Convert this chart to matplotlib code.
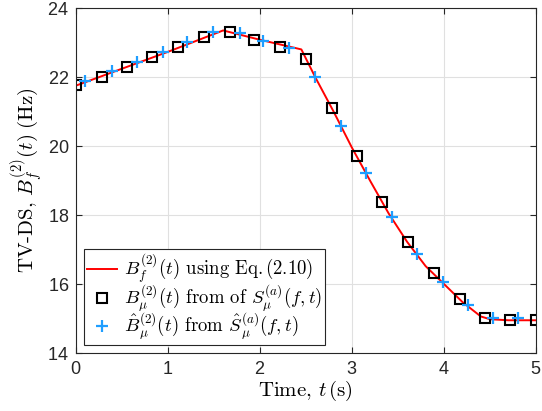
import matplotlib
matplotlib.use("Agg")
import matplotlib.pyplot as plt
import numpy as np

plt.rcParams['mathtext.fontset'] = 'cm'
plt.rcParams['axes.formatter.use_mathtext'] = True

# Reference curve B_f^(2)(t) (Eq. 2.10)
t_line = [0.0, 0.5, 1.0, 1.6, 2.0, 2.45, 2.6, 2.8, 3.0, 3.2, 3.4, 3.6, 3.8, 4.0, 4.2, 4.4, 4.5, 4.7, 5.0]
b_line = [21.75, 22.24, 22.73, 23.35, 23.08, 22.8, 22.0, 21.0, 19.95, 18.98, 18.04, 17.22, 16.52, 16.0, 15.48, 15.06, 14.98, 14.95, 14.95]

# Squares: B_mu^(2)(t) from S_mu^(a)(f,t)
t_sq = [0.0, 0.28, 0.56, 0.83, 1.11, 1.39, 1.67, 1.94, 2.22, 2.5, 2.78, 3.06, 3.33, 3.61, 3.89, 4.17, 4.44, 4.72, 5.0]
b_sq = [21.77, 21.99, 22.29, 22.58, 22.87, 23.16, 23.30, 23.07, 22.87, 22.52, 21.10, 19.71, 18.38, 17.22, 16.32, 15.57, 15.03, 14.96, 14.95]

# Crosses: hat B_mu^(2)(t) from hat S_mu^(a)(f,t)
t_cr = [0.10, 0.39, 0.66, 0.95, 1.21, 1.49, 1.78, 2.03, 2.32, 2.60, 2.88, 3.15, 3.43, 3.71, 3.99, 4.26, 4.53, 4.80]
b_cr = [21.88, 22.17, 22.43, 22.72, 23.01, 23.30, 23.28, 23.04, 22.84, 22.00, 20.58, 19.22, 17.94, 16.87, 16.06, 15.39, 15.01, 15.01]

xticks = [0, 1, 2, 3, 4, 5]
yticks = [14, 16, 18, 20, 22, 24]

fig = plt.figure(figsize=(5.42, 4.11), dpi=100)
ax = fig.add_axes([0.140, 0.141, 0.849, 0.8395])

ax.plot(t_line, b_line, color=(1, 0, 0), lw=1.4,
        label=r'$B_f^{(2)}(t)$ using Eq.$\,(2.10)$')
ax.plot(t_sq, b_sq, ls='none', marker='s', ms=6.8, mfc='none', mec='black', mew=1.5,
        label=r'$B_\mu^{(2)}(t)$ from of $S_\mu^{(a)}(f,t)$')
ax.plot(t_cr, b_cr, ls='none', marker='+', ms=9, mec=(0.12, 0.62, 1.0), mew=1.6,
        label=r'$\hat{B}_\mu^{(2)}(t)$ from $\hat{S}_\mu^{(a)}(f,t)$')

ax.set_xlim(0, 5)
ax.set_ylim(14, 24)
ax.set_xticks(xticks)
ax.set_yticks(yticks)
ax.grid(True, color=(0.88, 0.88, 0.88), lw=0.8)
ax.set_axisbelow(True)
for s in ax.spines.values():
    s.set_color((0.15, 0.15, 0.15))
    s.set_linewidth(0.8)
ax.tick_params(direction='in', top=True, right=True, length=4, width=0.8,
               colors=(0.15, 0.15, 0.15), labelsize=13)
ax.tick_params(axis='x', pad=6)
ax.tick_params(axis='y', pad=5)
for lab in ax.get_xticklabels() + ax.get_yticklabels():
    lab.set_family('Liberation Sans')

ax.set_xlabel(r'Time, $t\,$(s)', family='cmr10', fontsize=15, labelpad=0)
ax.set_ylabel(r'TV-DS, $B_f^{(2)}(t)\;$(Hz)', family='cmr10', fontsize=15, labelpad=2)

leg = ax.legend(loc='lower left', bbox_to_anchor=(0.017, 0.023), borderaxespad=0,
                prop={'family': 'cmr10', 'size': 13.5}, fancybox=False,
                framealpha=1, edgecolor=(0.15, 0.15, 0.15), handlelength=1.6,
                handletextpad=0.4, borderpad=0.15, labelspacing=-0.15)
leg.get_frame().set_linewidth(0.8)

fig.savefig('out.png', dpi=100)
